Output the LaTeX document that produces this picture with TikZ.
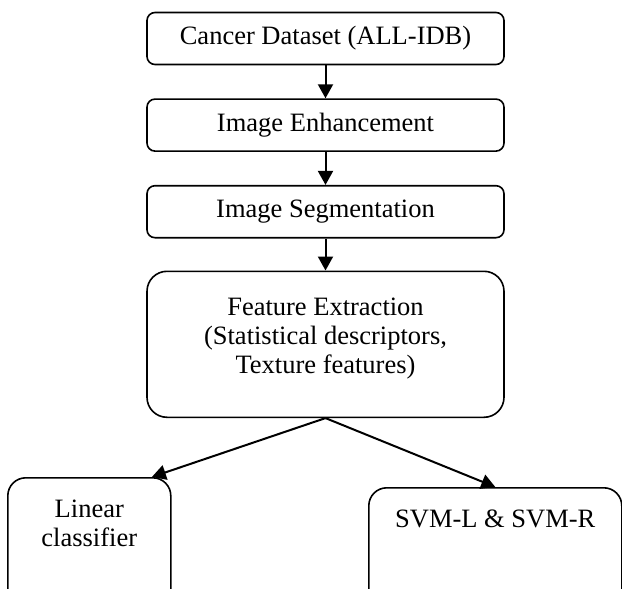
\documentclass[tikz,border=0pt]{standalone}
\usepackage{fontspec}
\setmainfont{Liberation Serif}
\usetikzlibrary{positioning,arrows.meta,calc}
\tikzset{
  stage/.style={rectangle, rounded corners=4pt, draw=black, line width=0.8pt,
                minimum width=178.5pt, minimum height=26pt, align=center,
                font=\fontsize{13.25}{14.5}\selectfont},
  bigstage/.style={stage, rounded corners=10pt, minimum height=73pt, inner ysep=0pt},
  result/.style={rectangle, rounded corners=9pt, draw=black, line width=0.8pt,
                 anchor=north west, inner xsep=0pt, inner ysep=9.5pt,
                 font=\fontsize{13.25}{14.5}\selectfont},
  flow/.style={-{Triangle[length=7pt,width=7.5pt]}, line width=1pt, draw=black}
}
\begin{document}
\begin{tikzpicture}[node distance=16.5pt]
\useasboundingbox (0,0) rectangle (311pt,-294.5pt);
\clip (0,0) rectangle (311pt,-294.5pt);
% processing chain
\node[stage] (data) at (162.75pt,-19.25pt) {Cancer Dataset (ALL-IDB)};
\node[stage, below=of data] (enh) {Image Enhancement};
\node[stage, below=of enh] (seg) {Image Segmentation};
\node[bigstage, below=16pt of seg] (feat)
  {\begin{tabular}{@{}c@{}}Feature Extraction\\(Statistical descriptors,\\Texture features)\\[6pt]\end{tabular}};
% classifiers
\node[result, minimum width=81.5pt] (lin) at (3.5pt,-238.5pt)
  {\begin{tabular}{@{}c@{}}Linear\\classifier\\[60pt]\end{tabular}};
\node[result, minimum width=126.5pt] (svm) at (184pt,-243.5pt)
  {\begin{tabular}{@{}c@{}}SVM-L \& SVM-R\\[60pt]\end{tabular}};
\draw[flow] (data) -- (enh);
\draw[flow] (enh) -- (seg);
\draw[flow] (seg) -- (feat);
\draw[flow] (feat.south) -- ($(lin.north east)!0.12!(lin.north west)$);
\draw[flow] (feat.south) -- (svm.north);
\end{tikzpicture}
\end{document}
